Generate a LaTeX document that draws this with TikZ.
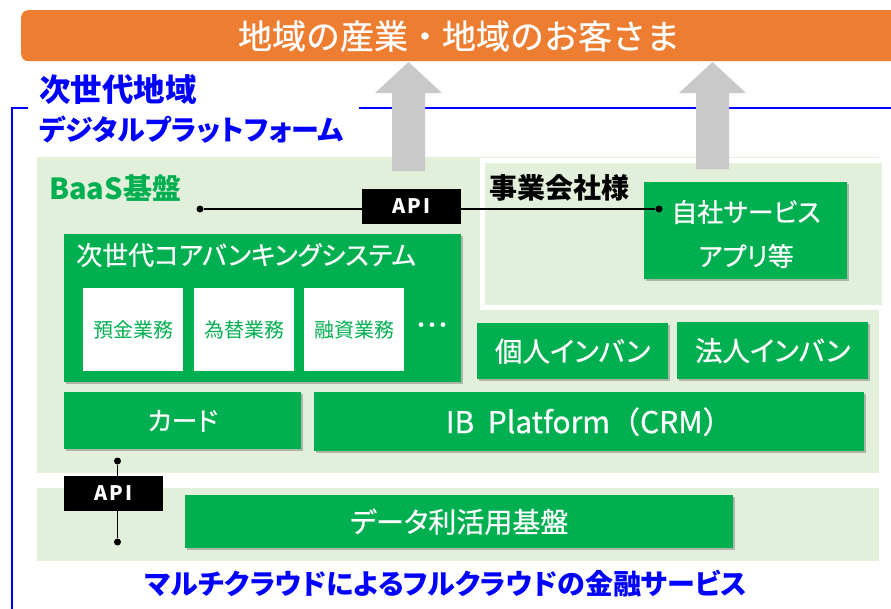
\documentclass[tikz,border=0pt]{standalone}
\usepackage{fontspec}
\setmainfont{Noto Sans CJK JP}
\newfontfamily\jp{Noto Sans CJK JP}
\newfontfamily\jpp{Noto Sans CJK JP}[RawFeature=+palt]
\newfontfamily\jpm{Noto Sans CJK JP}[RawFeature=+palt, FakeBold=0.6]
\newfontfamily\jpmfull{Noto Sans CJK JP}[FakeBold=0.6]
\newfontfamily\apifont{Noto Sans CJK JP}[LetterSpace=12]
\usetikzlibrary{shadows}
\definecolor{orangeC}{HTML}{ED7D31}
\definecolor{greenC}{HTML}{00B050}
\definecolor{lgreen}{HTML}{E2EFDA}
\definecolor{blueC}{HTML}{0000FF}
\definecolor{grayA}{HTML}{C9C9C9}
\tikzset{
  gbox/.style={fill=greenC, draw=none, inner sep=0pt, anchor=north west,
    drop shadow={shadow xshift=2pt, shadow yshift=-2pt, opacity=0.35, fill=black!70}},
  gtext/.style={text=white, inner sep=0pt, font=\jpm\fontsize{26}{28}\selectfont},
  wbox/.style={fill=white, draw=none, inner sep=0pt, anchor=north west, minimum width=100pt, minimum height=83pt,
    text=greenC, font=\jpp\fontsize{20}{22}\selectfont},
  lgbox/.style={fill=lgreen, draw=none, inner sep=0pt, anchor=north west},
  apibox/.style={fill=black, text=white, inner sep=0pt, minimum width=99pt, minimum height=35pt,
    font=\apifont\bfseries\fontsize{20}{22}\selectfont},
  dotc/.style={circle, fill=black, inner sep=0pt, minimum size=7pt},
  conn/.style={draw=black, line width=1.2pt},
  uparrow/.style={fill=grayA, draw=none},
  bluetitle/.style={text=blueC, inner sep=0pt, anchor=west},
}
\begin{document}
\begin{tikzpicture}[x=1pt,y=-1pt]
\useasboundingbox (0,0) rectangle (891,608);
% banner
\node[fill=orangeC, rounded corners=7pt, minimum width=890pt, minimum height=51pt, anchor=north west, inner sep=0pt] (banner) at (21,10) {};
\node[text=white, inner sep=0pt, font=\jpmfull\fontsize{34}{36}\selectfont] (bannertext) at (459,36) {地域の産業・地域のお客さま};
% blue frame
\draw[blueC, line width=2pt] (28,108) -- (12,108) -- (12,615);
\draw[blueC, line width=2pt] (359,108) -- (895,108);
\node[bluetitle, font=\jp\bfseries\fontsize{31.5}{33}\selectfont] (title1) at (39,90) {次世代地域};
\node[bluetitle, font=\jpp\bfseries\fontsize{28}{30}\selectfont] (title2) at (39,130) {デジタルプラットフォーム};
% light green areas
\node[lgbox, minimum width=842pt, minimum height=316pt] (baas) at (37,157) {};
\node[fill=lgreen, draw=white, line width=5pt, inner sep=0pt, anchor=north west, minimum width=402pt, minimum height=147pt] (jigyo) at (479.5,157.5) {};
\node[lgbox, minimum width=842pt, minimum height=73pt] (databand) at (37,488) {};
% gray arrows
\fill[uparrow] (392,171) -- (392,93) -- (375,93) -- (408.5,62) -- (442,93) -- (425,93) -- (425,171) -- cycle;
\fill[uparrow] (696,169) -- (696,93) -- (679,93) -- (712.5,62) -- (746,93) -- (729,93) -- (729,169) -- cycle;
% labels
\node[text=greenC, inner sep=0pt, anchor=west, font=\jpp\bfseries\fontsize{29}{31}\selectfont] (baaslabel) at (49,188) {BaaS基盤};
\node[text=black, inner sep=0pt, anchor=west, font=\jp\bfseries\fontsize{28}{30}\selectfont] (jigyolabel) at (489,188) {事業会社様};
% core banking
\node[gbox, minimum width=397pt, minimum height=148pt] (core) at (64,234) {};
\node[gtext, anchor=west] (coretitle) at (76,255) {次世代コアバンキングシステム};
\node[wbox] (yokin) at (83,288) {預金業務};
\node[wbox] (kawase) at (194,288) {為替業務};
\node[wbox] (yushi) at (304,288) {融資業務};
\node[text=white, inner sep=0pt, font=\jpp\fontsize{22}{24}\selectfont] (dots) at (432,328) {・・・};
% company app
\node[gbox, minimum width=203pt, minimum height=97pt] (app) at (644,182) {};
\node[gtext] (app1) at (746,212) {自社サービス};
\node[gtext] (app2) at (746,256) {アプリ等};
% inban
\node[gbox, minimum width=191pt, minimum height=56pt, gtext, anchor=north west, font=\jpm\fontsize{27.5}{29}\selectfont] (kojin) at (477,323) {個人インバン};
\node[gbox, minimum width=191pt, minimum height=57pt, gtext, anchor=north west, font=\jpm\fontsize{27.5}{29}\selectfont] (hojin) at (677,322) {法人インバン};
% card and IB
\node[gbox, minimum width=237pt, minimum height=57pt, gtext, anchor=north west] (card) at (64,392) {カード};
\node[gbox, minimum width=550pt, minimum height=59pt, gtext, anchor=north west, font=\jpmfull\fontsize{30}{32}\selectfont] (ib) at (314,392) {IB\ \ Platform（CRM）};
% data
\node[gbox, minimum width=548pt, minimum height=53pt, gtext, anchor=north west, font=\jpm\fontsize{28}{30}\selectfont] (data) at (185,495) {データ利活用基盤};
% API connectors
\node[dotc] (d1) at (200,209) {};
\node[dotc] (d2) at (659,209) {};
\draw[conn] (d1) -- (d2);
\node[apibox] (api1) at (411.5,206.5) {API};
\node[dotc] (d3) at (117.5,461) {};
\node[dotc] (d4) at (117.5,542) {};
\draw[conn] (d3) -- (d4);
\node[apibox] (api2) at (113.5,493.5) {API};
% bottom text
\node[text=blueC, inner sep=0pt, font=\jpp\bfseries\fontsize{28}{30}\selectfont] (bottom) at (446,584) {マルチクラウドによるフルクラウドの金融サービス};
\end{tikzpicture}
\end{document}
